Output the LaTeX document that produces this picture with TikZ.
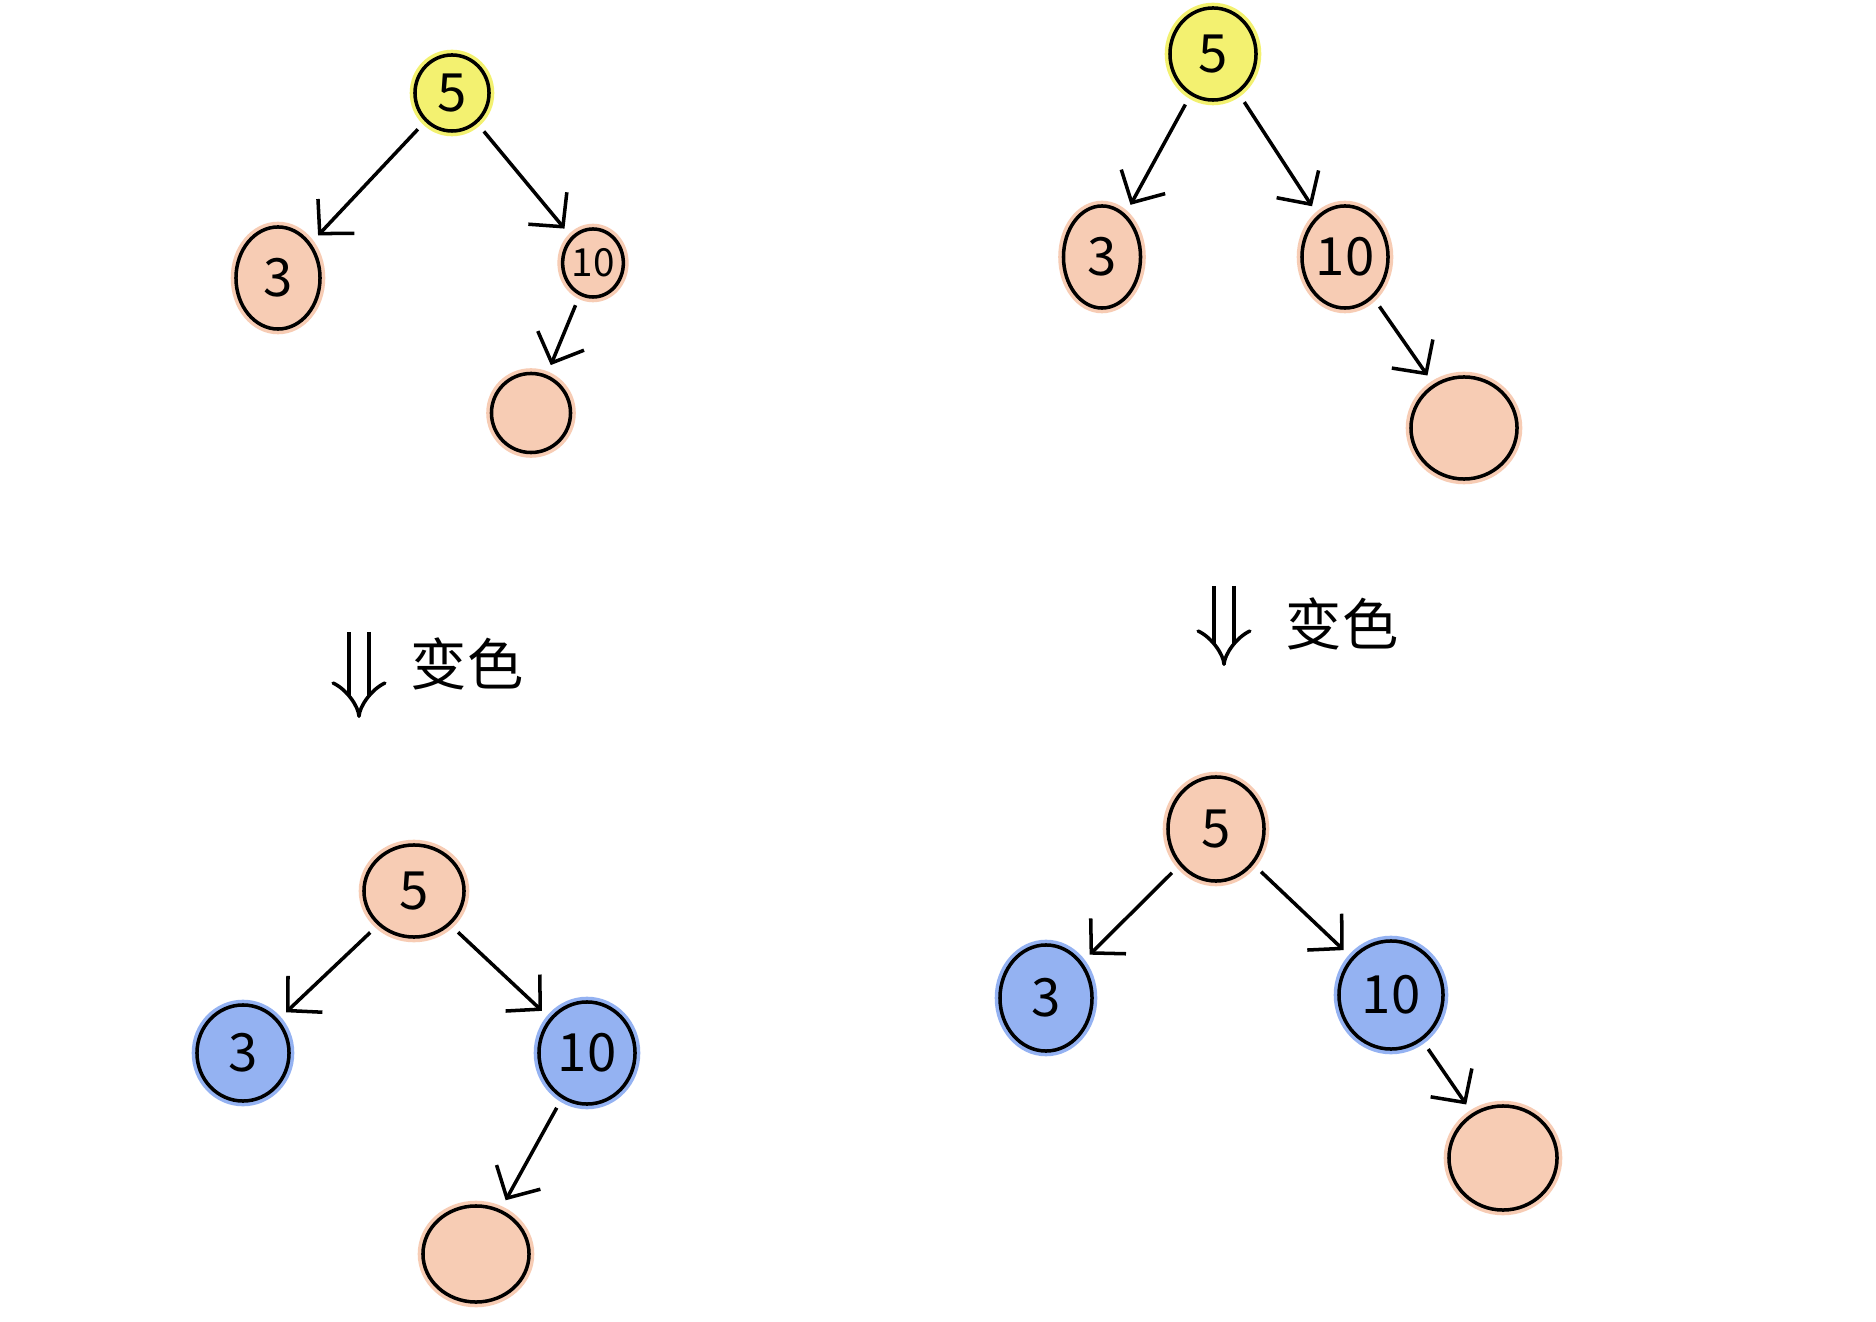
\documentclass[tikz,border=0pt]{standalone}
\usepackage{fontspec}
\newfontfamily\cjk{Noto Sans CJK SC}
\usetikzlibrary{arrows.meta,shapes.geometric}
\definecolor{hlyellow}{RGB}{243,241,112}
\definecolor{hlpeach}{RGB}{247,204,180}
\definecolor{hlblue}{RGB}{148,178,242}
\tikzset{
  tnode/.style={ellipse,draw=black,line width=1pt,inner sep=0pt,font=\cjk\fontsize{15}{15}\selectfont},
  ynode/.style={tnode,fill=hlyellow,preaction={draw=hlyellow,line width=3pt}},  % root before recolour
  pnode/.style={tnode,fill=hlpeach,preaction={draw=hlpeach,line width=3pt}},
  bnode/.style={tnode,fill=hlblue,preaction={draw=hlblue,line width=3pt}},
  sz/.style 2 args={minimum width=#1mm,minimum height=#2mm},
  ptr/.style={-{Straight Barb[length=2.4mm,width=5mm]},line width=1pt,shorten <=3pt,shorten >=3pt},
  turn/.style={double,double distance=1.6mm,line width=1pt,-{Implies}},
  note/.style={font=\cjk\fontsize{16}{16}\selectfont},
}

\begin{document}
\begin{tikzpicture}[x=0.01cm,y=-0.01cm]
  \fill[white] (0,0) rectangle (1876,1322);
  \useasboundingbox (0,0) rectangle (1876,1322);

  % top left: before
  \node[ynode,sz={7.4}{7.6}] (A5) at (452,93) {5};
  \node[pnode,sz={8.4}{10.2}] (A3) at (278,278) {3};
  \node[pnode,sz={5.8}{6.8},font=\cjk\fontsize{11}{11}\selectfont] (A10) at (593,263) {10};
  \node[pnode,sz={7.9}{7.9}] (An) at (531,413) {};
  \draw[ptr] (A5) -- (A3);
  \draw[ptr] (A5) -- (A10);
  \draw[ptr] (A10) -- (An);

  % top right: before
  \node[ynode,sz={8.6}{9.2}] (B5) at (1213,54) {5};
  \node[pnode,sz={7.7}{10.2}] (B3) at (1102,257) {3};
  \node[pnode,sz={8.6}{10.2}] (B10) at (1345,257) {10};
  \node[pnode,sz={10.6}{10.2}] (Bn) at (1464,428) {};
  \draw[ptr] (B5) -- (B3);
  \draw[ptr] (B5) -- (B10);
  \draw[ptr] (B10) -- (Bn);

  % recolour steps
  \coordinate (s1) at (359,632);
  \coordinate (e1) at (359,718);
  \draw[turn] (s1) -- (e1);
  \node[note] (L1) at (467,664) {变色};
  \coordinate (s2) at (1224,586);
  \coordinate (e2) at (1224,666);
  \draw[turn] (s2) -- (e2);
  \node[note] (L2) at (1342,624) {变色};

  % bottom left: after
  \node[pnode,sz={10}{9.2}] (C5) at (414,891) {5};
  \node[bnode,sz={9.2}{9.6}] (C3) at (243,1053) {3};
  \node[bnode,sz={9.6}{10.2}] (C10) at (587,1053) {10};
  \node[pnode,sz={10.6}{9.6}] (Cn) at (476,1254) {};
  \draw[ptr] (C5) -- (C3);
  \draw[ptr] (C5) -- (C10);
  \draw[ptr] (C10) -- (Cn);

  % bottom right: after
  \node[pnode,sz={9.6}{10.4}] (D5) at (1216,829) {5};
  \node[bnode,sz={9.2}{10.6}] (D3) at (1046,998) {3};
  \node[bnode,sz={10.4}{10.8}] (D10) at (1391,995) {10};
  \node[pnode,sz={10.8}{10.4}] (Dn) at (1503,1158) {};
  \draw[ptr] (D5) -- (D3);
  \draw[ptr] (D5) -- (D10);
  \draw[ptr] (D10) -- (Dn);
\end{tikzpicture}
\end{document}
